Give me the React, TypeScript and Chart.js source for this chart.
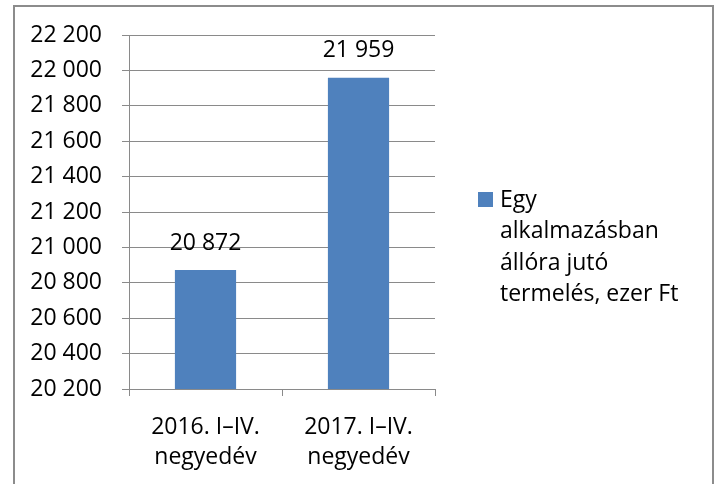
import React, { useEffect, useRef } from "react";
import { Chart, registerables } from "chart.js";

Chart.register(...registerables);

const categories: string[][] = [["2016. I–IV.", "negyedév"], ["2017. I–IV.", "negyedév"]];
const values: number[] = [20872, 21959];
const seriesLabel = "Egy alkalmazásban állóra jutó termelés, ezer Ft";
const legendLines: string[] = ["Egy", "alkalmazásban", "állóra jutó", "termelés, ezer Ft"];
const yMin = 20200;
const yMax = 22200;
const yStep = 200;

const FONT = "Open Sans";
const FONT_SIZE = 23;
const BAR_COLOR = "#4F81BD";
const GRID_COLOR = "#8a8a8a";

const fmt = (v: number) => {
  const s = Math.round(v).toString();
  return s.replace(/\B(?=(\d{3})+(?!\d))/g, " ");
};

const decorPlugin = {
  id: "decor",
  afterDraw(chart: any) {
    const ctx = chart.ctx;
    const area = chart.chartArea;
    ctx.save();
    // outer frame
    ctx.strokeStyle = "#8c8c8c";
    ctx.lineWidth = 2;
    ctx.strokeRect(14, 6, 699, 700);

    // value labels
    ctx.fillStyle = "#000";
    ctx.font = `${FONT_SIZE}px "${FONT}"`;
    ctx.textAlign = "center";
    ctx.textBaseline = "middle";
    const meta = chart.getDatasetMeta(0);
    meta.data.forEach((bar: any, i: number) => {
      ctx.fillText(fmt(values[i]), bar.x, bar.y - 27);
    });

    // legend
    const sqX = area.right + 43;
    const firstY = 200;
    const lh = 31.5;
    ctx.fillStyle = BAR_COLOR;
    ctx.fillRect(sqX, firstY - 8, 15, 15);
    ctx.fillStyle = "#000";
    ctx.textAlign = "left";
    legendLines.forEach((line, i) => {
      ctx.fillText(line, sqX + 22, firstY + i * lh);
    });
    ctx.restore();
  },
};

export default function App() {
  const ref = useRef<HTMLCanvasElement | null>(null);
  useEffect(() => {
    document.body.style.margin = "0";
    const chart = new Chart(ref.current as HTMLCanvasElement, {
      type: "bar",
      data: {
        labels: categories,
        datasets: [
          {
            label: seriesLabel,
            data: values,
            backgroundColor: BAR_COLOR,
            categoryPercentage: 1,
            barPercentage: 0.4,
          },
        ],
      },
      options: {
        animation: false,
        responsive: true,
        maintainAspectRatio: false,
        layout: { padding: { top: 35, right: 286, bottom: 0, left: 0 } },
        plugins: { legend: { display: false }, tooltip: { enabled: false } },
        scales: {
          x: {
            grid: {
              offset: true,
              drawOnChartArea: false,
              drawTicks: true,
              tickLength: 7,
              color: GRID_COLOR,
            },
            border: { color: GRID_COLOR, width: 1 },
            ticks: {
              color: "#000",
              padding: 16,
              maxRotation: 0,
              autoSkip: false,
              font: { family: FONT, size: FONT_SIZE, lineHeight: 30 / FONT_SIZE },
            },
            afterFit: (s: any) => {
              s.height = 95;
            },
          },
          y: {
            min: yMin,
            max: yMax,
            grid: { color: GRID_COLOR, tickLength: 7, drawTicks: true },
            border: { color: GRID_COLOR, width: 1 },
            ticks: {
              stepSize: yStep,
              color: "#000",
              padding: 20,
              font: { family: FONT, size: FONT_SIZE },
              callback: (v: any) => fmt(Number(v)),
            },
            afterFit: (s: any) => {
              s.width = 129;
            },
          },
        },
      } as any,
      plugins: [decorPlugin],
    });
    return () => chart.destroy();
  }, []);
  return (
    <div style={{ position: "absolute", left: 0, top: 0, width: 721, height: 484 }}>
      <canvas ref={ref} />
    </div>
  );
}
